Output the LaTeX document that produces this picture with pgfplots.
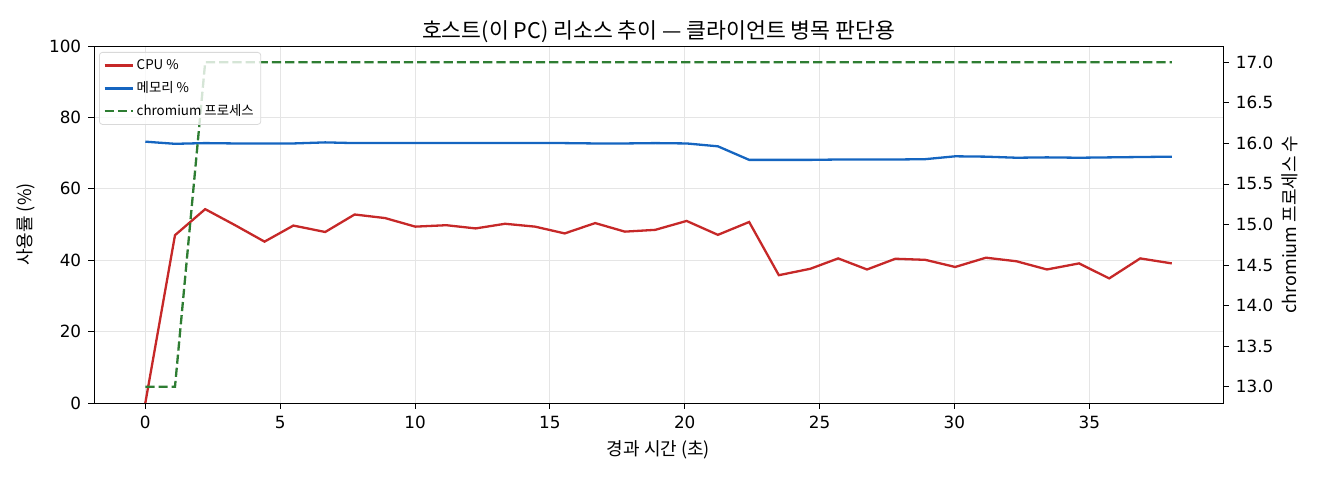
\documentclass[border=0pt]{standalone}
\usepackage{pgfplots}
\pgfplotsset{compat=1.18}
\usepackage{pgfplotstable}
\usepackage{fontspec}
\setmainfont{Noto Sans CJK KR}
\newfontfamily\tickfont{DejaVu Sans}

\definecolor{cpured}{HTML}{C62828}
\definecolor{memblue}{HTML}{1565C0}
\definecolor{procgreen}{HTML}{2E7D32}

% host samples: time (s), cpu %, memory %, chromium process count
\pgfplotstableread{
t     cpu   mem   proc
0.00  0.0   73.2  13
1.10  47.0  72.6  13
2.22  54.3  72.8  17
3.33  49.8  72.7  17
4.42  45.2  72.7  17
5.49  49.7  72.7  17
6.67  47.9  73.0  17
7.76  52.8  72.8  17
8.89  51.8  72.8  17
10.01 49.4  72.8  17
11.16 49.8  72.8  17
12.25 48.9  72.8  17
13.34 50.2  72.8  17
14.45 49.4  72.8  17
15.55 47.5  72.8  17
16.68 50.4  72.7  17
17.78 48.0  72.7  17
18.91 48.5  72.8  17
20.07 51.0  72.7  17
21.23 47.1  71.9  17
22.39 50.7  68.1  17
23.49 35.8  68.1  17
24.66 37.6  68.1  17
25.69 40.5  68.2  17
26.76 37.4  68.2  17
27.81 40.4  68.2  17
28.92 40.1  68.3  17
30.03 38.1  69.1  17
31.17 40.7  69.0  17
32.30 39.7  68.7  17
33.43 37.4  68.8  17
34.62 39.1  68.7  17
35.74 34.9  68.8  17
36.89 40.5  68.9  17
38.06 39.1  69.0  17
}\hostdata

\pgfplotsset{
  hostbase/.style={
    at={(47pt,38.5pt)}, anchor=south west,
    scale only axis,
    width=564.5pt, height=178.5pt,
    xmin=-1.903, xmax=39.96,
    /pgf/number format/assume math mode=true,
    tick label style={font=\tickfont\fontsize{8.4}{10}\selectfont, black},
    label style={font=\fontsize{9}{11}\selectfont},
    tick align=outside,
    major tick length=2.9pt,
    every tick/.style={black, line width=0.4pt},
    axis line style={line width=0.45pt},
    legend image code/.code={\draw[#1] (0pt,0pt) -- (14pt,0pt);},
  },
}

\begin{document}
\begin{tikzpicture}
\useasboundingbox (0,0) rectangle (660pt,240pt);

\begin{axis}[
  hostbase,
  ymin=0, ymax=100,
  xtick={0,5,...,35},
  ytick={0,20,...,100},
  xtick pos=bottom, ytick pos=left,
  grid=major,
  grid style={black!10, line width=0.4pt},
  title={호스트(이 PC) 리소스 추이 — 클라이언트 병목 판단용},
  title style={font=\fontsize{10.8}{12}\selectfont, yshift=-8pt},
  xlabel={경과 시간 (초)},
  ylabel={사용률 (\%)},
  xlabel style={yshift=1pt},
]
\addplot[cpured, line width=1.15pt] table[x=t, y=cpu] {\hostdata};
\addplot[memblue, line width=1.15pt] table[x=t, y=mem] {\hostdata};
\end{axis}

\begin{axis}[
  hostbase,
  ymin=12.8, ymax=17.2,
  axis x line=none,
  axis y line*=right,
  ytick={13,13.5,...,17},
  yticklabel style={/pgf/number format/.cd, fixed, fixed zerofill, precision=1},
  ylabel={chromium 프로세스 수},
  ylabel style={yshift=2.5pt},
  legend cell align=left,
  legend style={
    at={(0,1)}, anchor=north west, xshift=2.5pt, yshift=-3pt,
    draw=black!15, rounded corners=1.5pt,
    fill=white, fill opacity=0.8, text opacity=1,
    font=\fontsize{6.7}{8}\selectfont,
    inner sep=2pt, row sep=2.2pt,
    nodes={inner sep=1.5pt, text height=5pt, text depth=1.2pt},
  },
]
\addlegendimage{cpured, line width=1.15pt}
\addlegendentry{CPU \%}
\addlegendimage{memblue, line width=1.15pt}
\addlegendentry{메모리 \%}
\addplot[procgreen, line width=1.15pt, dash pattern=on 4.6pt off 2pt] table[x=t, y=proc] {\hostdata};
\addlegendentry{chromium 프로세스}
\end{axis}
\end{tikzpicture}
\end{document}
